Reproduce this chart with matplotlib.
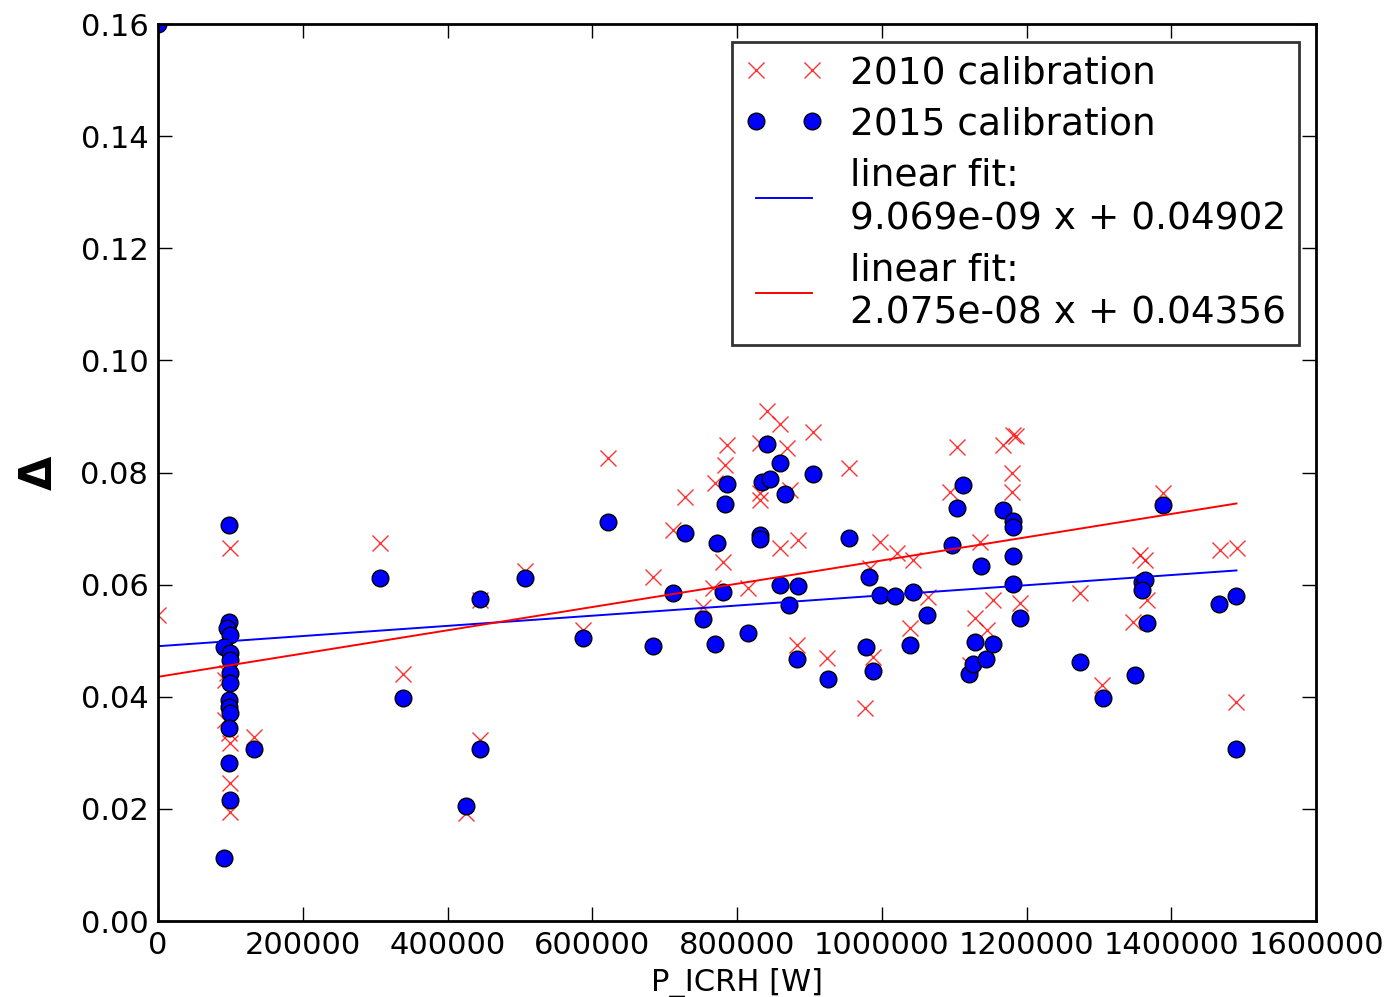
import numpy as np
import matplotlib
matplotlib.use('Agg')
import matplotlib.pyplot as plt

# 2015 calibration (blue dots)
x_2015 = [0, 98000, 98000, 95000, 99000, 91000, 99000, 99000, 99000, 99000,
          98000, 98000, 99000, 98000, 98000, 100000, 91000, 133000, 307000, 338500,
          425600, 445000, 445000, 507000, 587200, 621800, 684000, 711600, 728200, 753100,
          769600, 772400, 780700, 783400, 786200, 815300, 831800, 831800, 834500, 841500,
          845600, 859400, 859400, 866300, 871900, 882900, 884300, 905000, 925700, 954800,
          978300, 982300, 988000, 997600, 1018300, 1039000, 1043200, 1062500, 1097100, 1104000,
          1112300, 1120600, 1126000, 1128800, 1137200, 1144000, 1153700, 1167500, 1181300, 1181300,
          1181300, 1181300, 1191000, 1273900, 1305700, 1350000, 1359600, 1363700, 1359600, 1366500,
          1388600, 1466000, 1489500, 1489500]
y_2015 = [0.160, 0.0706, 0.0533, 0.0523, 0.0510, 0.0489, 0.0478, 0.0466, 0.0442, 0.0424,
          0.0394, 0.0382, 0.0371, 0.0344, 0.0282, 0.0216, 0.0112, 0.0307, 0.0612, 0.0398,
          0.0205, 0.0574, 0.0307, 0.0612, 0.0505, 0.0712, 0.0491, 0.0585, 0.0692, 0.0539,
          0.0494, 0.0674, 0.0587, 0.0744, 0.0780, 0.0514, 0.0689, 0.0681, 0.0783, 0.0851,
          0.0788, 0.0817, 0.0599, 0.0762, 0.0564, 0.0467, 0.0598, 0.0797, 0.0432, 0.0683,
          0.0489, 0.0614, 0.0446, 0.0581, 0.0580, 0.0492, 0.0587, 0.0546, 0.0671, 0.0737,
          0.0778, 0.0441, 0.0458, 0.0498, 0.0633, 0.0467, 0.0494, 0.0733, 0.0714, 0.0703,
          0.0651, 0.0601, 0.0540, 0.0462, 0.0398, 0.0439, 0.0605, 0.0608, 0.0590, 0.0532,
          0.0742, 0.0565, 0.0580, 0.0307]

# 2010 calibration (red crosses)
x_2010 = [0, 99000, 95000, 93000, 93000, 98000, 99000, 100000, 99000, 133000,
          306700, 338500, 425600, 445000, 445000, 507000, 587200, 621800, 684000, 711600,
          728200, 753100, 766900, 769600, 780700, 783400, 786200, 815300, 831800, 831800,
          831800, 841500, 859400, 859400, 869100, 873300, 882900, 884300, 905000, 924300,
          954800, 976900, 983700, 988000, 997600, 1021100, 1039000, 1043200, 1063900, 1094300,
          1104000, 1121900, 1128800, 1135800, 1145400, 1153700, 1167500, 1181300, 1185000, 1180000,
          1180000, 1191000, 1273900, 1304300, 1347200, 1356800, 1363700, 1366500, 1388600, 1467400,
          1490800, 1489500]
y_2010 = [0.0546, 0.0665, 0.0442, 0.0430, 0.0358, 0.0335, 0.0317, 0.0246, 0.0194, 0.0328,
          0.0674, 0.0441, 0.0193, 0.0572, 0.0323, 0.0625, 0.0519, 0.0826, 0.0614, 0.0697,
          0.0756, 0.0560, 0.0594, 0.0781, 0.0640, 0.0813, 0.0849, 0.0594, 0.0853, 0.0763,
          0.0751, 0.0910, 0.0887, 0.0665, 0.0844, 0.0769, 0.0492, 0.0680, 0.0872, 0.0469,
          0.0808, 0.0380, 0.0630, 0.0471, 0.0676, 0.0656, 0.0523, 0.0644, 0.0578, 0.0765,
          0.0846, 0.0457, 0.0540, 0.0676, 0.0519, 0.0573, 0.0849, 0.0867, 0.0865, 0.0799,
          0.0765, 0.0567, 0.0585, 0.0421, 0.0533, 0.0653, 0.0644, 0.0573, 0.0763, 0.0662,
          0.0665, 0.0391]

# linear fits (coefficients from the legend)
fit_2015 = (9.069e-09, 0.04902)
fit_2010 = (2.075e-08, 0.04356)
fit_x = np.array([0, 1490000])

fig = plt.figure(figsize=(13.9, 9.97), dpi=100, facecolor='white')
ax = fig.add_axes([0.1137, 0.0762, 0.8331, 0.8997])

ax.plot(x_2010, y_2010, 'x', color='red', markersize=11, markeredgewidth=1.0,
        alpha=0.8, label='2010 calibration')
ax.plot(x_2015, y_2015, 'o', color='blue', markeredgecolor='black', markeredgewidth=1.0,
        markersize=12, label='2015 calibration')
ax.plot(fit_x, fit_2015[0] * fit_x + fit_2015[1], '-', color='blue', linewidth=1.4,
        label='linear fit:\n%.3e x + %.5f' % fit_2015)
ax.plot(fit_x, fit_2010[0] * fit_x + fit_2010[1], '-', color='red', linewidth=1.4,
        label='linear fit:\n%.3e x + %.5f' % fit_2010)

ax.set_xlim(0, 1600000)
ax.set_ylim(0, 0.16)
ax.set_xticks(np.arange(0, 1600001, 200000))
ax.set_yticks(np.arange(0, 0.161, 0.02))
ax.xaxis.set_major_formatter(matplotlib.ticker.FuncFormatter(lambda v, p: '%d' % v))
ax.yaxis.set_major_formatter(matplotlib.ticker.FormatStrFormatter('%.2f'))
ax.tick_params(direction='in', length=10, width=1, top=True, right=True,
               labelsize=22, pad=7)
for s in ax.spines.values():
    s.set_linewidth(2)

ax.set_xlabel('P_ICRH [W]', fontsize=22, labelpad=6)
ax.set_ylabel('Δ', fontsize=32, fontweight='bold', labelpad=14)

leg = ax.legend(loc='upper right', bbox_to_anchor=(0.9853, 0.9799), borderaxespad=0,
                numpoints=2, fontsize=27, handlelength=2.1, handletextpad=0.7,
                borderpad=0.35, labelspacing=0.4, fancybox=False)
for t in leg.get_texts():
    t.set_linespacing(1.28)
leg.get_frame().set_edgecolor('black')
leg.get_frame().set_linewidth(2)

fig.savefig('out.png', dpi=100, facecolor='white')
